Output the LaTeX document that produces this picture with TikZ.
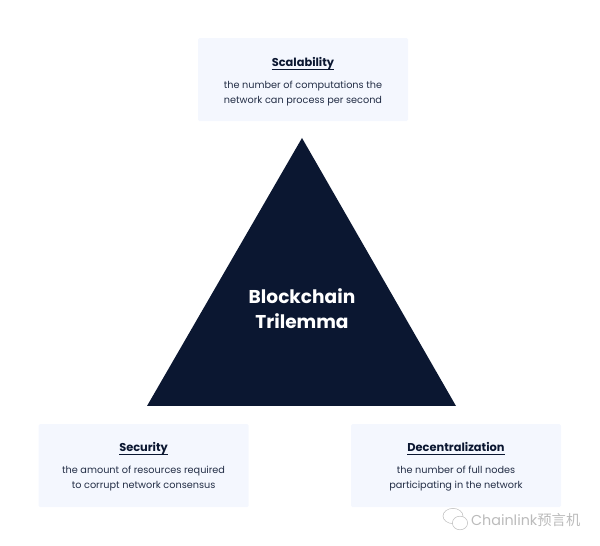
\documentclass[tikz,border=0pt]{standalone}
\usepackage{fontspec}
\setmainfont{Poppins}
\newfontfamily\cjk{Noto Sans CJK SC}
\usepackage{xcolor}
\usetikzlibrary{positioning}

\definecolor{navy}{HTML}{0B1731}
\definecolor{boxblue}{HTML}{F4F7FE}
\definecolor{wmgray}{HTML}{BBBBBB}

\tikzset{
    infobox/.style={fill=boxblue, rounded corners=1pt, minimum width=5.25cm, minimum height=2.075cm},
    title/.style={font=\fontsize{8.1}{10}\selectfont\bfseries, text=navy, inner sep=0pt, text depth=1.7pt},
    body/.style={font=\fontsize{6.9}{10.6}\selectfont, text=navy!90, align=center},
    rule/.style={navy, line width=.55pt}
}

\begin{document}
\begin{tikzpicture}
    \useasboundingbox (0, 0) rectangle (15, 13.65);

    \coordinate (apex) at (7.55, 10.2);
    \coordinate (left) at (3.675, 3.5);
    \coordinate (right) at (11.4, 3.5);
    \fill[navy] (apex) -- (left) -- (right) -- cycle;
    \node[font=\fontsize{13.2}{18.2}\selectfont\bfseries, text=white, align=center] (name) at (7.55, 5.93) {Blockchain\\Trilemma};

    \node[infobox] (scale) at (7.575, 11.66) {};
    \node[title] (scaletitle) at (7.575, 12.075) {Scalability};
    \draw[rule] (scaletitle.south west) -- (scaletitle.south east);
    \node[body] (scaletext) at (7.575, 11.305) {the number of computations the\\network can process per second};

    \node[infobox] (secure) at (3.59, 2.01) {};
    \node[title] (securetitle) at (3.59, 2.45) {Security};
    \draw[rule] (securetitle.south west) -- (securetitle.south east);
    \node[body] (securetext) at (3.59, 1.68) {the amount of resources required\\to corrupt network consensus};

    \node[infobox] (decent) at (11.4, 2.01) {};
    \node[title] (decenttitle) at (11.4, 2.45) {Decentralization};
    \draw[rule] (decenttitle.south west) -- (decenttitle.south east);
    \node[body] (decenttext) at (11.4, 1.68) {the number of full nodes\\participating in the network};

    % watermark
    \draw[wmgray, fill=white, line width=.35pt] (11.325, .75) ellipse (.25 and .19);
    \draw[wmgray, fill=white, line width=.35pt] (11.5, .575) ellipse (.19 and .17);
    \node[anchor=west, inner sep=0pt, text=wmgray, font=\fontsize{10.2}{12}\selectfont] (wm) at (11.77, .66) {Chainlink{\cjk 预言机}};
\end{tikzpicture}
\end{document}
